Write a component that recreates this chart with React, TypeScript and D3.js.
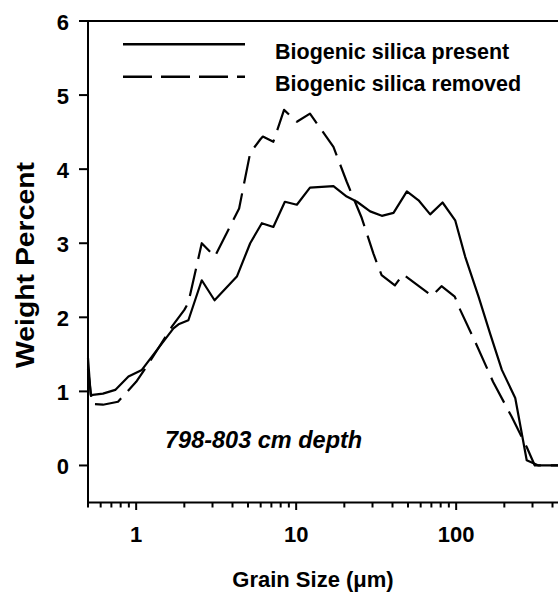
import React from "react";
import * as d3 from "d3";

const presentX = [0.5, 0.52, 0.62, 0.74, 0.895, 1.085, 1.35, 1.71, 1.84, 2.12, 2.57, 3.09, 4.26, 5.16, 6.1, 7.2, 8.5, 10.1, 12.2, 17.1, 20.7, 24, 29, 34.3, 40.6, 49.2, 58.2, 68.8, 82.2, 98.6, 113.8, 138, 163, 193, 234, 276, 327, 600];
const presentY = [1.45, 0.95, 0.97, 1.02, 1.2, 1.29, 1.56, 1.85, 1.905, 1.96, 2.5, 2.23, 2.55, 3.0, 3.27, 3.22, 3.56, 3.52, 3.75, 3.77, 3.63, 3.56, 3.43, 3.37, 3.41, 3.7, 3.58, 3.39, 3.55, 3.31, 2.82, 2.28, 1.78, 1.29, 0.91, 0.07, 0.0, 0.0];

const removedX = [0.5, 0.53, 0.62, 0.77, 1.0, 1.2, 1.68, 2.0, 2.12, 2.57, 3.1, 4.4, 5.16, 5.96, 6.19, 7.2, 8.4, 10.1, 12.2, 17.1, 20.7, 25.7, 30.4, 32.5, 34.2, 41.4, 46.5, 70.5, 81, 98, 106, 134, 170, 222, 276, 310, 600];
const removedY = [1.3, 0.83, 0.82, 0.86, 1.13, 1.38, 1.88, 2.1, 2.2, 3.0, 2.82, 3.47, 4.22, 4.4, 4.44, 4.37, 4.8, 4.64, 4.75, 4.3, 3.83, 3.34, 2.86, 2.69, 2.57, 2.43, 2.58, 2.29, 2.42, 2.28, 2.1, 1.63, 1.13, 0.66, 0.25, 0.0, 0.0];

const yTicks = [0, 1, 2, 3, 4, 5, 6];
const xMajorTicks = [1, 10, 100];
const xMinorTicks = [0.5, 0.6, 0.7, 0.8, 0.9, 2, 3, 4, 5, 6, 7, 8, 9, 20, 30, 40, 50, 60, 70, 80, 90, 200, 300, 400, 500];
const legendLabels = ["Biogenic silica present", "Biogenic silica removed"];
const depthLabel = "798-803 cm depth";
const xTitle = "Grain Size (\u03bcm)";
const yTitle = "Weight Percent";

const FONT = "'Liberation Sans', Arial, Helvetica, sans-serif";

export default function App() {
  const W = 558;
  const H = 594;
  const left = 88;
  const top = 21;
  const bottom = 502.5;
  const x = d3.scaleLog().domain([0.5, 500]).range([left, left + 480]);
  const y = d3.scaleLinear().domain([-0.5, 6]).range([bottom, top]);

  const line = d3
    .line<[number, number]>()
    .x((d) => x(d[0]))
    .y((d) => y(d[1]));

  const presentData: [number, number][] = presentX.map((v, i) => [v, presentY[i]]);
  const removedData: [number, number][] = removedX.map((v, i) => [v, removedY[i]]);

  return (
    <svg
      width={W}
      height={H}
      style={{ position: "absolute", left: 0, top: 0, background: "#fff" }}
      fontFamily={FONT}
      fontWeight="bold"
    >
      <rect x={0} y={0} width={W} height={H} fill="#fff" />
      {/* axes */}
      <line x1={left} y1={top} x2={W + 20} y2={top} stroke="#000" strokeWidth={2} />
      <line x1={left} y1={top - 1} x2={left} y2={bottom + 1} stroke="#000" strokeWidth={2} />
      <line x1={left - 1} y1={bottom} x2={W + 20} y2={bottom} stroke="#000" strokeWidth={2} />
      {yTicks.map((t) => (
        <g key={"yt" + t}>
          <line x1={left - 9} x2={left} y1={y(t)} y2={y(t)} stroke="#000" strokeWidth={2} />
          <text x={69} y={y(t) + 8.5} textAnchor="end" fontSize={22} fill="#000">
            {t}
          </text>
        </g>
      ))}
      {xMinorTicks.map((t) => (
        <line key={"xm" + t} x1={x(t)} x2={x(t)} y1={bottom} y2={bottom + 5} stroke="#000" strokeWidth={2} />
      ))}
      {xMajorTicks.map((t) => (
        <g key={"xt" + t}>
          <line x1={x(t)} x2={x(t)} y1={bottom} y2={bottom + 7.5} stroke="#000" strokeWidth={2} />
          <text x={x(t)} y={541.7} textAnchor="middle" fontSize={22} fill="#000">
            {t}
          </text>
        </g>
      ))}
      {/* titles */}
      <text x={313} y={587} textAnchor="middle" fontSize={22} fill="#000">
        {xTitle}
      </text>
      <text
        transform="translate(33.5,265) rotate(-90)"
        textAnchor="middle"
        fontSize={25}
        fill="#000"
        textLength={206}
        lengthAdjust="spacingAndGlyphs"
      >
        {yTitle}
      </text>
      {/* data */}
      <path d={line(presentData) || ""} fill="none" stroke="#000" strokeWidth={2.2} strokeLinejoin="round" />
      <path
        d={line(removedData) || ""}
        fill="none"
        stroke="#000"
        strokeWidth={2.2}
        strokeDasharray="28,10"
        strokeLinejoin="round"
      />
      {/* legend */}
      <line x1={123} x2={245} y1={44.3} y2={44.3} stroke="#000" strokeWidth={2.5} />
      <line x1={123} x2={245} y1={76.7} y2={76.7} stroke="#000" strokeWidth={2.5} strokeDasharray="29,9" />
      <text x={275} y={58.5} fontSize={21.5} fill="#000">
        {legendLabels[0]}
      </text>
      <text x={275} y={90.5} fontSize={21.5} fill="#000">
        {legendLabels[1]}
      </text>
      {/* annotation */}
      <text x={165} y={448.3} fontSize={23.5} fontStyle="italic" fill="#000">
        {depthLabel}
      </text>
    </svg>
  );
}
